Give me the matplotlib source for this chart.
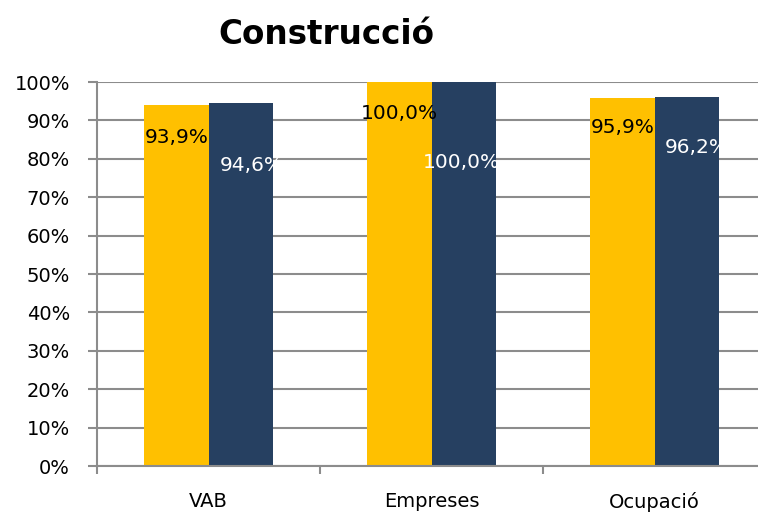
import matplotlib

matplotlib.use("Agg")
import matplotlib.pyplot as plt
import numpy as np
from matplotlib.ticker import FixedLocator, PercentFormatter

categories = ["VAB", "Empreses", "Ocupació"]
serie_groc = [93.9, 100.0, 95.9]
serie_blau = [94.6, 100.0, 96.2]
y_ticks = list(range(0, 101, 10))

GROC = "#FFC000"
BLAU = "#264061"
GRIS = "#8C8C8C"
BAR_W = 0.287

# label offsets in pixels from bar top (hand placed in the original)
off_groc = [(0, -32), (0, -31), (0, -30)]
off_blau = [(11, -63), (-2, -80), (10, -51)]

plt.rcParams["font.family"] = ["DejaVu Sans"]

fig = plt.figure(figsize=(7.58, 5.13), dpi=100)
ax = fig.add_axes([97 / 758, 47 / 513, 669 / 758, 384 / 513])

x = np.arange(len(categories))
b1 = ax.bar(x - BAR_W / 2, serie_groc, BAR_W, color=GROC, zorder=2)
b2 = ax.bar(x + BAR_W / 2, serie_blau, BAR_W, color=BLAU, zorder=2)

for bars, vals, offs, col in [(b1, serie_groc, off_groc, "black"), (b2, serie_blau, off_blau, "white")]:
    for r, v, (dx, dy) in zip(bars, vals, offs):
        ax.annotate(f"{v:.1f}%".replace(".", ","),
                    (r.get_x() + r.get_width() / 2, r.get_height()),
                    xytext=(dx, dy), textcoords="offset pixels",
                    ha="center", va="center", fontsize=14.5, color=col, zorder=3)

ax.set_xlim(-0.5, len(categories) - 0.5)
ax.set_ylim(0, 100)
ax.set_yticks(y_ticks)
ax.yaxis.set_major_formatter(PercentFormatter(decimals=0))
ax.yaxis.grid(True, color=GRIS, linewidth=1.5, zorder=0)
ax.set_axisbelow(True)

ax.set_xticks(x)
ax.set_xticklabels(categories)
ax.xaxis.set_minor_locator(FixedLocator(np.arange(-0.5, len(categories), 1.0)))
ax.tick_params(axis="x", which="major", length=0, pad=19, labelsize=14)
ax.tick_params(axis="x", which="minor", length=6, width=1.5, color=GRIS, direction="out")
ax.tick_params(axis="y", length=6.5, width=1.5, color=GRIS, pad=13, labelsize=14)

for s in ["top", "right"]:
    ax.spines[s].set_visible(False)
for s in ["left", "bottom"]:
    ax.spines[s].set_color(GRIS)
    ax.spines[s].set_linewidth(1.5)

fig.text(326 / 758, 1 - 35 / 513, "Construcció", ha="center", va="center",
         fontsize=23.5, fontweight="bold")

fig.savefig("out.png", dpi=100)
